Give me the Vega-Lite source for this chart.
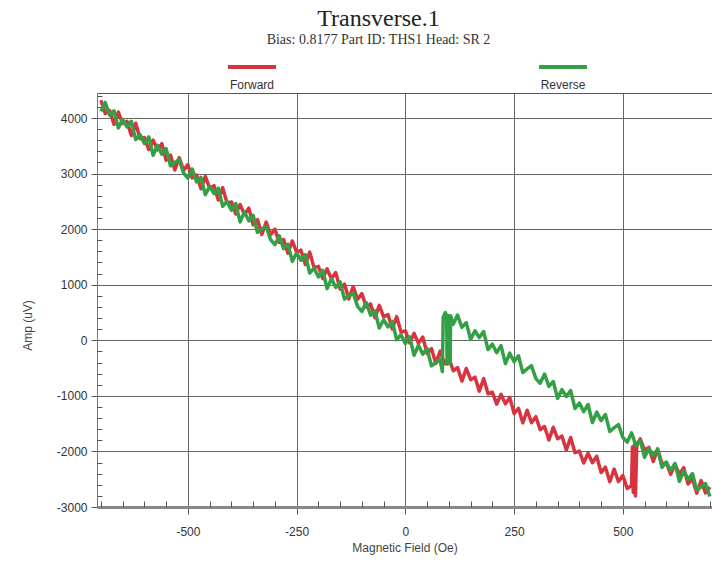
{
  "$schema": "https://vega.github.io/schema/vega-lite/v6.json",
  "width": 615,
  "height": 414,
  "autosize": "none",
  "padding": {"left": 97, "top": 93, "right": 0, "bottom": 59},
  "background": "white",
  "view": {"stroke": "#555", "strokeWidth": 1},
  "title": {
    "text": "Transverse.1",
    "subtitle": "Bias: 0.8177 Part ID: THS1 Head: SR 2",
    "font": "Liberation Serif",
    "fontSize": 24,
    "fontWeight": "normal",
    "color": "#222",
    "subtitleFont": "Liberation Serif",
    "subtitleFontSize": 14,
    "subtitleColor": "#333",
    "subtitlePadding": 2,
    "anchor": "middle",
    "dx": -26,
    "dy": 20,
    "offset": 14
  },
  "data": {"values": [
    {"f":-700,"a":4320,"s":"Forward"},{"f":-690,"a":4082,"s":"Forward"},{"f":-680,"a":4134,"s":"Forward"},{"f":-670,"a":3886,"s":"Forward"},{"f":-660,"a":4108,"s":"Forward"},{"f":-650,"a":3900,"s":"Forward"},{"f":-640,"a":3942,"s":"Forward"},{"f":-630,"a":3684,"s":"Forward"},{"f":-620,"a":3906,"s":"Forward"},{"f":-610,"a":3628,"s":"Forward"},
    {"f":-600,"a":3650,"s":"Forward"},{"f":-590,"a":3432,"s":"Forward"},{"f":-580,"a":3604,"s":"Forward"},{"f":-570,"a":3426,"s":"Forward"},{"f":-560,"a":3538,"s":"Forward"},{"f":-550,"a":3240,"s":"Forward"},{"f":-540,"a":3332,"s":"Forward"},{"f":-530,"a":3064,"s":"Forward"},{"f":-520,"a":3286,"s":"Forward"},{"f":-510,"a":3058,"s":"Forward"},
    {"f":-500,"a":3160,"s":"Forward"},{"f":-490,"a":2922,"s":"Forward"},{"f":-480,"a":2974,"s":"Forward"},{"f":-470,"a":2726,"s":"Forward"},{"f":-460,"a":2948,"s":"Forward"},{"f":-450,"a":2740,"s":"Forward"},{"f":-440,"a":2782,"s":"Forward"},{"f":-430,"a":2524,"s":"Forward"},{"f":-420,"a":2746,"s":"Forward"},{"f":-410,"a":2468,"s":"Forward"},
    {"f":-400,"a":2490,"s":"Forward"},{"f":-390,"a":2272,"s":"Forward"},{"f":-380,"a":2444,"s":"Forward"},{"f":-370,"a":2266,"s":"Forward"},{"f":-360,"a":2378,"s":"Forward"},{"f":-350,"a":2080,"s":"Forward"},{"f":-340,"a":2172,"s":"Forward"},{"f":-330,"a":1904,"s":"Forward"},{"f":-320,"a":2126,"s":"Forward"},{"f":-310,"a":1898,"s":"Forward"},
    {"f":-300,"a":2000,"s":"Forward"},{"f":-290,"a":1762,"s":"Forward"},{"f":-280,"a":1814,"s":"Forward"},{"f":-270,"a":1566,"s":"Forward"},{"f":-260,"a":1788,"s":"Forward"},{"f":-250,"a":1580,"s":"Forward"},{"f":-240,"a":1622,"s":"Forward"},{"f":-230,"a":1364,"s":"Forward"},{"f":-220,"a":1586,"s":"Forward"},{"f":-210,"a":1308,"s":"Forward"},
    {"f":-200,"a":1330,"s":"Forward"},{"f":-190,"a":1112,"s":"Forward"},{"f":-180,"a":1284,"s":"Forward"},{"f":-170,"a":1106,"s":"Forward"},{"f":-160,"a":1218,"s":"Forward"},{"f":-150,"a":920,"s":"Forward"},{"f":-140,"a":1012,"s":"Forward"},{"f":-130,"a":744,"s":"Forward"},{"f":-120,"a":966,"s":"Forward"},{"f":-110,"a":738,"s":"Forward"},
    {"f":-100,"a":840,"s":"Forward"},{"f":-90,"a":602,"s":"Forward"},{"f":-80,"a":654,"s":"Forward"},{"f":-70,"a":406,"s":"Forward"},{"f":-60,"a":628,"s":"Forward"},{"f":-50,"a":420,"s":"Forward"},{"f":-40,"a":462,"s":"Forward"},{"f":-30,"a":204,"s":"Forward"},{"f":-20,"a":426,"s":"Forward"},{"f":-10,"a":148,"s":"Forward"},
    {"f":0,"a":170,"s":"Forward"},{"f":10,"a":-48,"s":"Forward"},{"f":20,"a":124,"s":"Forward"},{"f":30,"a":-54,"s":"Forward"},{"f":40,"a":58,"s":"Forward"},{"f":50,"a":-240,"s":"Forward"},{"f":60,"a":-148,"s":"Forward"},{"f":70,"a":-416,"s":"Forward"},{"f":80,"a":-194,"s":"Forward"},{"f":90,"a":-422,"s":"Forward"},
    {"f":100,"a":-315,"s":"Forward"},{"f":110,"a":-548,"s":"Forward"},{"f":120,"a":-491,"s":"Forward"},{"f":130,"a":-734,"s":"Forward"},{"f":140,"a":-507,"s":"Forward"},{"f":150,"a":-710,"s":"Forward"},{"f":160,"a":-663,"s":"Forward"},{"f":170,"a":-916,"s":"Forward"},{"f":180,"a":-689,"s":"Forward"},{"f":190,"a":-962,"s":"Forward"},
    {"f":200,"a":-935,"s":"Forward"},{"f":210,"a":-1148,"s":"Forward"},{"f":220,"a":-971,"s":"Forward"},{"f":230,"a":-1144,"s":"Forward"},{"f":240,"a":-1027,"s":"Forward"},{"f":250,"a":-1320,"s":"Forward"},{"f":260,"a":-1223,"s":"Forward"},{"f":270,"a":-1486,"s":"Forward"},{"f":280,"a":-1259,"s":"Forward"},{"f":290,"a":-1482,"s":"Forward"},
    {"f":300,"a":-1375,"s":"Forward"},{"f":310,"a":-1608,"s":"Forward"},{"f":320,"a":-1551,"s":"Forward"},{"f":330,"a":-1794,"s":"Forward"},{"f":340,"a":-1567,"s":"Forward"},{"f":350,"a":-1770,"s":"Forward"},{"f":360,"a":-1723,"s":"Forward"},{"f":370,"a":-1976,"s":"Forward"},{"f":380,"a":-1749,"s":"Forward"},{"f":390,"a":-2022,"s":"Forward"},
    {"f":400,"a":-1995,"s":"Forward"},{"f":410,"a":-2208,"s":"Forward"},{"f":420,"a":-2031,"s":"Forward"},{"f":430,"a":-2204,"s":"Forward"},{"f":440,"a":-2087,"s":"Forward"},{"f":450,"a":-2380,"s":"Forward"},{"f":460,"a":-2283,"s":"Forward"},{"f":470,"a":-2546,"s":"Forward"},{"f":480,"a":-2319,"s":"Forward"},{"f":490,"a":-2542,"s":"Forward"},
    {"f":500,"a":-2435,"s":"Forward"},{"f":510,"a":-2668,"s":"Forward"},{"f":520,"a":-2611,"s":"Forward"},{"f":522,"a":-1920,"s":"Forward"},{"f":524,"a":-2740,"s":"Forward"},{"f":527,"a":-1880,"s":"Forward"},{"f":529,"a":-2800,"s":"Forward"},{"f":532,"a":-1900,"s":"Forward"},
    {"f":540,"a":-1772,"s":"Forward"},{"f":550,"a":-1975,"s":"Forward"},{"f":560,"a":-1928,"s":"Forward"},{"f":570,"a":-2181,"s":"Forward"},{"f":580,"a":-1954,"s":"Forward"},{"f":590,"a":-2227,"s":"Forward"},
    {"f":600,"a":-2200,"s":"Forward"},{"f":610,"a":-2413,"s":"Forward"},{"f":620,"a":-2236,"s":"Forward"},{"f":630,"a":-2409,"s":"Forward"},{"f":640,"a":-2292,"s":"Forward"},{"f":650,"a":-2585,"s":"Forward"},{"f":660,"a":-2488,"s":"Forward"},{"f":670,"a":-2751,"s":"Forward"},{"f":680,"a":-2524,"s":"Forward"},{"f":690,"a":-2747,"s":"Forward"},{"f":700,"a":-2640,"s":"Forward"},

    {"f":-700,"a":4120,"s":"Reverse"},{"f":-690,"a":4280,"s":"Reverse"},{"f":-680,"a":4050,"s":"Reverse"},{"f":-670,"a":4130,"s":"Reverse"},{"f":-660,"a":3820,"s":"Reverse"},{"f":-650,"a":3970,"s":"Reverse"},{"f":-640,"a":3840,"s":"Reverse"},{"f":-630,"a":3940,"s":"Reverse"},{"f":-620,"a":3610,"s":"Reverse"},{"f":-610,"a":3700,"s":"Reverse"},
    {"f":-600,"a":3540,"s":"Reverse"},{"f":-590,"a":3660,"s":"Reverse"},{"f":-580,"a":3330,"s":"Reverse"},{"f":-570,"a":3510,"s":"Reverse"},{"f":-560,"a":3350,"s":"Reverse"},{"f":-550,"a":3450,"s":"Reverse"},{"f":-540,"a":3140,"s":"Reverse"},{"f":-530,"a":3200,"s":"Reverse"},{"f":-520,"a":3250,"s":"Reverse"},{"f":-510,"a":3010,"s":"Reverse"},
    {"f":-500,"a":2920,"s":"Reverse"},{"f":-490,"a":3080,"s":"Reverse"},{"f":-480,"a":2850,"s":"Reverse"},{"f":-470,"a":2930,"s":"Reverse"},{"f":-460,"a":2620,"s":"Reverse"},{"f":-450,"a":2770,"s":"Reverse"},{"f":-440,"a":2640,"s":"Reverse"},{"f":-430,"a":2740,"s":"Reverse"},{"f":-420,"a":2410,"s":"Reverse"},{"f":-410,"a":2500,"s":"Reverse"},
    {"f":-400,"a":2340,"s":"Reverse"},{"f":-390,"a":2460,"s":"Reverse"},{"f":-380,"a":2130,"s":"Reverse"},{"f":-370,"a":2310,"s":"Reverse"},{"f":-360,"a":2150,"s":"Reverse"},{"f":-350,"a":2250,"s":"Reverse"},{"f":-340,"a":1940,"s":"Reverse"},{"f":-330,"a":2000,"s":"Reverse"},{"f":-320,"a":2050,"s":"Reverse"},{"f":-310,"a":1810,"s":"Reverse"},
    {"f":-300,"a":1720,"s":"Reverse"},{"f":-290,"a":1880,"s":"Reverse"},{"f":-280,"a":1650,"s":"Reverse"},{"f":-270,"a":1730,"s":"Reverse"},{"f":-260,"a":1420,"s":"Reverse"},{"f":-250,"a":1570,"s":"Reverse"},{"f":-240,"a":1440,"s":"Reverse"},{"f":-230,"a":1540,"s":"Reverse"},{"f":-220,"a":1210,"s":"Reverse"},{"f":-210,"a":1300,"s":"Reverse"},
    {"f":-200,"a":1140,"s":"Reverse"},{"f":-190,"a":1260,"s":"Reverse"},{"f":-180,"a":930,"s":"Reverse"},{"f":-170,"a":1110,"s":"Reverse"},{"f":-160,"a":950,"s":"Reverse"},{"f":-150,"a":1050,"s":"Reverse"},{"f":-140,"a":740,"s":"Reverse"},{"f":-130,"a":800,"s":"Reverse"},{"f":-120,"a":850,"s":"Reverse"},{"f":-110,"a":610,"s":"Reverse"},
    {"f":-100,"a":520,"s":"Reverse"},{"f":-90,"a":680,"s":"Reverse"},{"f":-80,"a":450,"s":"Reverse"},{"f":-70,"a":530,"s":"Reverse"},{"f":-60,"a":220,"s":"Reverse"},{"f":-50,"a":370,"s":"Reverse"},{"f":-40,"a":240,"s":"Reverse"},{"f":-30,"a":340,"s":"Reverse"},{"f":-20,"a":10,"s":"Reverse"},{"f":-10,"a":100,"s":"Reverse"},
    {"f":0,"a":-60,"s":"Reverse"},{"f":10,"a":60,"s":"Reverse"},{"f":20,"a":-270,"s":"Reverse"},{"f":30,"a":-90,"s":"Reverse"},{"f":40,"a":-250,"s":"Reverse"},{"f":50,"a":-150,"s":"Reverse"},{"f":60,"a":-460,"s":"Reverse"},{"f":70,"a":-400,"s":"Reverse"},{"f":80,"a":-350,"s":"Reverse"},{"f":85,"a":-560,"s":"Reverse"},
    {"f":87,"a":420,"s":"Reverse"},{"f":92,"a":500,"s":"Reverse"},{"f":95,"a":380,"s":"Reverse"},{"f":96,"a":-430,"s":"Reverse"},{"f":97,"a":450,"s":"Reverse"},{"f":102,"a":390,"s":"Reverse"},{"f":103,"a":-420,"s":"Reverse"},{"f":104,"a":440,"s":"Reverse"},
    {"f":110,"a":287,"s":"Reverse"},{"f":120,"a":454,"s":"Reverse"},{"f":130,"a":231,"s":"Reverse"},{"f":140,"a":318,"s":"Reverse"},{"f":150,"a":15,"s":"Reverse"},{"f":160,"a":172,"s":"Reverse"},{"f":170,"a":49,"s":"Reverse"},{"f":180,"a":156,"s":"Reverse"},{"f":190,"a":-167,"s":"Reverse"},
    {"f":200,"a":-70,"s":"Reverse"},{"f":210,"a":-223,"s":"Reverse"},{"f":220,"a":-96,"s":"Reverse"},{"f":230,"a":-419,"s":"Reverse"},{"f":240,"a":-232,"s":"Reverse"},{"f":250,"a":-385,"s":"Reverse"},{"f":260,"a":-278,"s":"Reverse"},{"f":270,"a":-581,"s":"Reverse"},{"f":280,"a":-514,"s":"Reverse"},{"f":290,"a":-457,"s":"Reverse"},
    {"f":300,"a":-690,"s":"Reverse"},{"f":310,"a":-773,"s":"Reverse"},{"f":320,"a":-606,"s":"Reverse"},{"f":330,"a":-829,"s":"Reverse"},{"f":340,"a":-742,"s":"Reverse"},{"f":350,"a":-1045,"s":"Reverse"},{"f":360,"a":-888,"s":"Reverse"},{"f":370,"a":-1011,"s":"Reverse"},{"f":380,"a":-904,"s":"Reverse"},{"f":390,"a":-1227,"s":"Reverse"},
    {"f":400,"a":-1130,"s":"Reverse"},{"f":410,"a":-1283,"s":"Reverse"},{"f":420,"a":-1156,"s":"Reverse"},{"f":430,"a":-1479,"s":"Reverse"},{"f":440,"a":-1292,"s":"Reverse"},{"f":450,"a":-1445,"s":"Reverse"},{"f":460,"a":-1338,"s":"Reverse"},{"f":470,"a":-1641,"s":"Reverse"},{"f":480,"a":-1574,"s":"Reverse"},{"f":490,"a":-1517,"s":"Reverse"},
    {"f":500,"a":-1750,"s":"Reverse"},{"f":510,"a":-1833,"s":"Reverse"},{"f":520,"a":-1666,"s":"Reverse"},{"f":530,"a":-1889,"s":"Reverse"},{"f":540,"a":-1802,"s":"Reverse"},{"f":550,"a":-2105,"s":"Reverse"},{"f":560,"a":-1948,"s":"Reverse"},{"f":570,"a":-2071,"s":"Reverse"},{"f":580,"a":-1964,"s":"Reverse"},{"f":590,"a":-2287,"s":"Reverse"},
    {"f":600,"a":-2190,"s":"Reverse"},{"f":610,"a":-2343,"s":"Reverse"},{"f":620,"a":-2216,"s":"Reverse"},{"f":630,"a":-2539,"s":"Reverse"},{"f":640,"a":-2352,"s":"Reverse"},{"f":650,"a":-2505,"s":"Reverse"},{"f":660,"a":-2398,"s":"Reverse"},{"f":670,"a":-2701,"s":"Reverse"},{"f":680,"a":-2634,"s":"Reverse"},{"f":690,"a":-2577,"s":"Reverse"},{"f":700,"a":-2810,"s":"Reverse"}
  ]},
  "resolve": {"axis": {"x": "independent", "y": "independent"}},
  "layer": [
    {
      "mark": {"type": "line", "strokeWidth": 3.5, "strokeJoin": "round", "clip": true},
      "encoding": {
        "x": {
          "field": "f", "type": "quantitative",
          "scale": {"domain": [-709, 705], "nice": false, "zero": false},
          "axis": {
            "title": "Magnetic Field (Oe)",
            "values": [-500, -250, 0, 250, 500],
            "labelExpr": "'' + datum.value",
            "grid": true, "gridColor": "#666", "gridWidth": 1,
            "tickSize": 7, "tickColor": "#555",
            "domainColor": "#888", "domainWidth": 3,
            "labelFont": "Liberation Sans", "labelFontSize": 12, "labelColor": "#333", "labelPadding": 12,
            "titleFont": "Liberation Sans", "titleFontSize": 12, "titleFontWeight": "normal", "titleColor": "#444", "titlePadding": 5
          }
        },
        "y": {
          "field": "a", "type": "quantitative",
          "scale": {"domain": [-3000, 4450], "nice": false, "zero": false},
          "axis": {
            "title": "Amp (uV)",
            "values": [-3000, -2000, -1000, 0, 1000, 2000, 3000, 4000],
            "labelExpr": "'' + datum.value",
            "grid": true, "gridColor": "#666", "gridWidth": 1,
            "tickSize": 6, "tickColor": "#555",
            "domainColor": "#777", "domainWidth": 1,
            "labelFont": "Liberation Sans", "labelFontSize": 12, "labelColor": "#333", "labelPadding": 4,
            "titleFont": "Liberation Sans", "titleFontSize": 12, "titleFontWeight": "normal", "titleColor": "#444",
            "titleX": -63, "titleY": 232
          }
        },
        "color": {
          "field": "s", "type": "nominal",
          "scale": {"domain": ["Forward", "Reverse"], "range": ["#d8343f", "#34a045"]},
          "legend": {
            "title": null,
            "orient": "none",
            "legendX": 129,
            "legendY": -52,
            "direction": "horizontal",
            "symbolType": "stroke",
            "symbolSize": 2300,
            "symbolStrokeWidth": 4,
            "labelFont": "Liberation Sans",
            "labelFontSize": 12,
            "labelColor": "#333",
            "labelAlign": "center",
            "labelOffset": 4,
            "columnPadding": 247,
            "encode": {"labels": {"update": {"dx": {"value": -30}, "dy": {"value": 18}}}}
          }
        }
      }
    },
    {
      "mark": {"type": "point", "opacity": 0},
      "encoding": {
        "x": {
          "field": "f", "type": "quantitative",
          "axis": {
            "orient": "bottom", "title": null, "labels": false, "grid": false, "domain": false,
            "values": [-700,-650,-600,-550,-450,-400,-350,-300,-200,-150,-100,-50,50,100,150,200,300,350,400,450,550,600,650,700],
            "tickSize": -6, "tickColor": "#555"
          }
        },
        "y": {
          "field": "a", "type": "quantitative",
          "axis": {
            "orient": "left", "title": null, "labels": false, "grid": false, "domain": false,
            "values": [-2800,-2600,-2400,-2200,-1800,-1600,-1400,-1200,-800,-600,-400,-200,200,400,600,800,1200,1400,1600,1800,2200,2400,2600,2800,3200,3400,3600,3800,4200,4400],
            "tickSize": -5, "tickColor": "#555"
          }
        }
      }
    }
  ]
}
